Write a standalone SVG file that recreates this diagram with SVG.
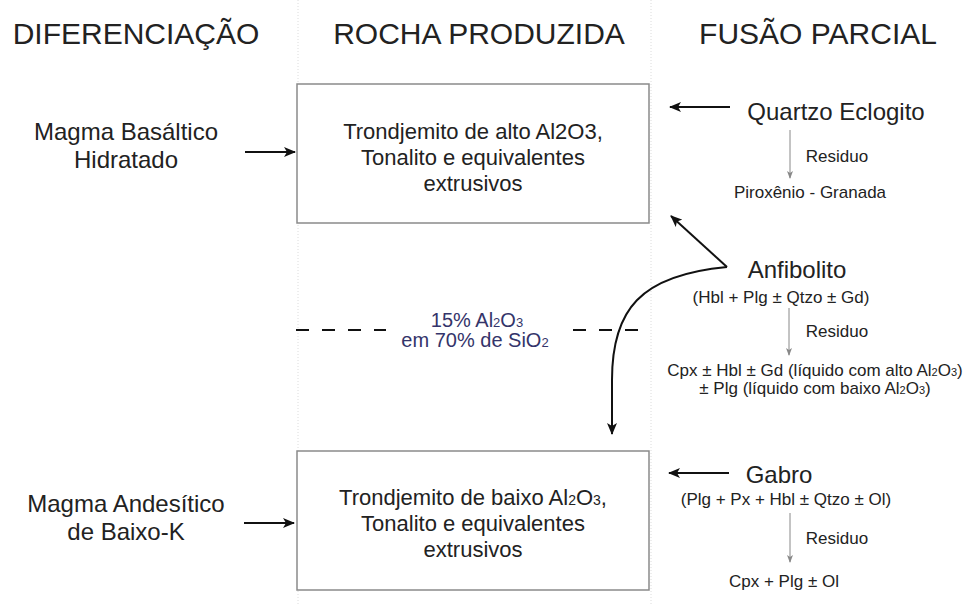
<svg xmlns="http://www.w3.org/2000/svg" width="970" height="605" viewBox="0 0 970 605">
<defs>
<style>
text{font-family:"Liberation Sans",Arial,sans-serif;fill:#222;text-anchor:middle}
.hdr{font-size:30px}
.big{font-size:24px}
.box{font-size:22px}
.sm{font-size:17px}
.blue{font-size:20px;fill:#34346a}
.rect{fill:#fff;stroke:#8a8a8a;stroke-width:1.5}
.arr{stroke:#111;stroke-width:2;fill:none;marker-end:url(#ah)}
.res{stroke:#888;stroke-width:1;fill:none;marker-end:url(#ahs)}
.sep{stroke:#dcdcdc;stroke-width:1;stroke-dasharray:1 2}
</style>
<marker id="ah" viewBox="0 0 12 10" refX="11" refY="5" markerWidth="12" markerHeight="10" markerUnits="userSpaceOnUse" orient="auto">
<path d="M0,0 L12,5 L0,10 L3,5 z" fill="#111"/>
</marker>
<marker id="ahs" viewBox="0 0 8 6" refX="7" refY="3" markerWidth="8" markerHeight="6" markerUnits="userSpaceOnUse" orient="auto">
<path d="M0,0 L8,3 L0,6 L2,3 z" fill="#888"/>
</marker>
</defs>
<rect width="970" height="605" fill="#fff"/>
<g id="separators">
<line class="sep" x1="298" y1="0" x2="298" y2="605"/>
<line class="sep" x1="651" y1="0" x2="651" y2="605"/>
</g>
<g id="headers">
<text class="hdr" x="136" y="44">DIFERENCIAÇÃO</text>
<text class="hdr" x="479" y="44">ROCHA PRODUZIDA</text>
<text class="hdr" x="818" y="44">FUSÃO PARCIAL</text>
</g>
<g id="box-alto">
<rect class="rect" x="297" y="84" width="352" height="139"/>
<text class="box" x="473" y="139">Trondjemito de alto Al2O3,</text>
<text class="box" x="473" y="165">Tonalito e equivalentes</text>
<text class="box" x="473" y="191">extrusivos</text>
</g>
<g id="box-baixo">
<rect class="rect" x="297" y="451" width="352" height="139"/>
<text class="box" x="473" y="505">Trondjemito de baixo Al<tspan font-size="14">2</tspan>O<tspan font-size="14">3</tspan>,</text>
<text class="box" x="473" y="531">Tonalito e equivalentes</text>
<text class="box" x="473" y="557">extrusivos</text>
</g>
<g id="magma-basaltico">
<text class="big" x="126" y="140">Magma Basáltico</text>
<text class="big" x="126" y="168">Hidratado</text>
</g>
<g id="magma-andesitico">
<text class="big" x="126" y="512">Magma Andesítico</text>
<text class="big" x="126" y="540">de Baixo-K</text>
</g>
<g id="limite">
<text class="blue" x="477" y="327">15% Al<tspan font-size="13">2</tspan>O<tspan font-size="13">3</tspan></text>
<text class="blue" x="475" y="347">em 70% de SiO<tspan font-size="13">2</tspan></text>
</g>
<g id="quartzo-eclogito">
<text class="big" x="836" y="120">Quartzo Eclogito</text>
<text class="sm" x="837" y="162">Residuo</text>
<text class="sm" x="810" y="198">Piroxênio - Granada</text>
</g>
<g id="anfibolito">
<text class="big" x="797" y="278">Anfibolito</text>
<text class="sm" x="781" y="303">(Hbl + Plg ± Qtzo ± Gd)</text>
<text class="sm" x="837" y="337">Residuo</text>
<text class="sm" x="815" y="376">Cpx ± Hbl ± Gd (líquido com alto Al<tspan font-size="11">2</tspan>O<tspan font-size="11">3</tspan>)</text>
<text class="sm" x="815" y="394">± Plg (líquido com baixo Al<tspan font-size="11">2</tspan>O<tspan font-size="11">3</tspan>)</text>
</g>
<g id="gabro">
<text class="big" x="779" y="483">Gabro</text>
<text class="sm" x="786" y="505">(Plg + Px + Hbl ± Qtzo ± Ol)</text>
<text class="sm" x="837" y="544">Residuo</text>
<text class="sm" x="784" y="587">Cpx + Plg ± Ol</text>
</g>
<g id="connectors">
<line class="arr" x1="245" y1="152" x2="295" y2="152"/>
<line class="arr" x1="244" y1="523" x2="294" y2="523"/>
<line class="arr" x1="730" y1="107" x2="670" y2="107"/>
<line class="arr" x1="729" y1="473" x2="669" y2="473"/>
<line class="arr" x1="727" y1="267" x2="671" y2="216"/>
<path class="arr" d="M727,267 C640,275 612,310 612,380 L612,434"/>
<line class="res" x1="790" y1="130" x2="790" y2="178"/>
<line class="res" x1="789" y1="308" x2="789" y2="355"/>
<line class="res" x1="790" y1="513" x2="790" y2="562"/>
<line stroke="#111" stroke-width="2" stroke-dasharray="13 13" x1="296" y1="330" x2="386" y2="330"/>
<line stroke="#111" stroke-width="2" stroke-dasharray="13 13" x1="573" y1="330" x2="639" y2="330"/>
</g>
</svg>
